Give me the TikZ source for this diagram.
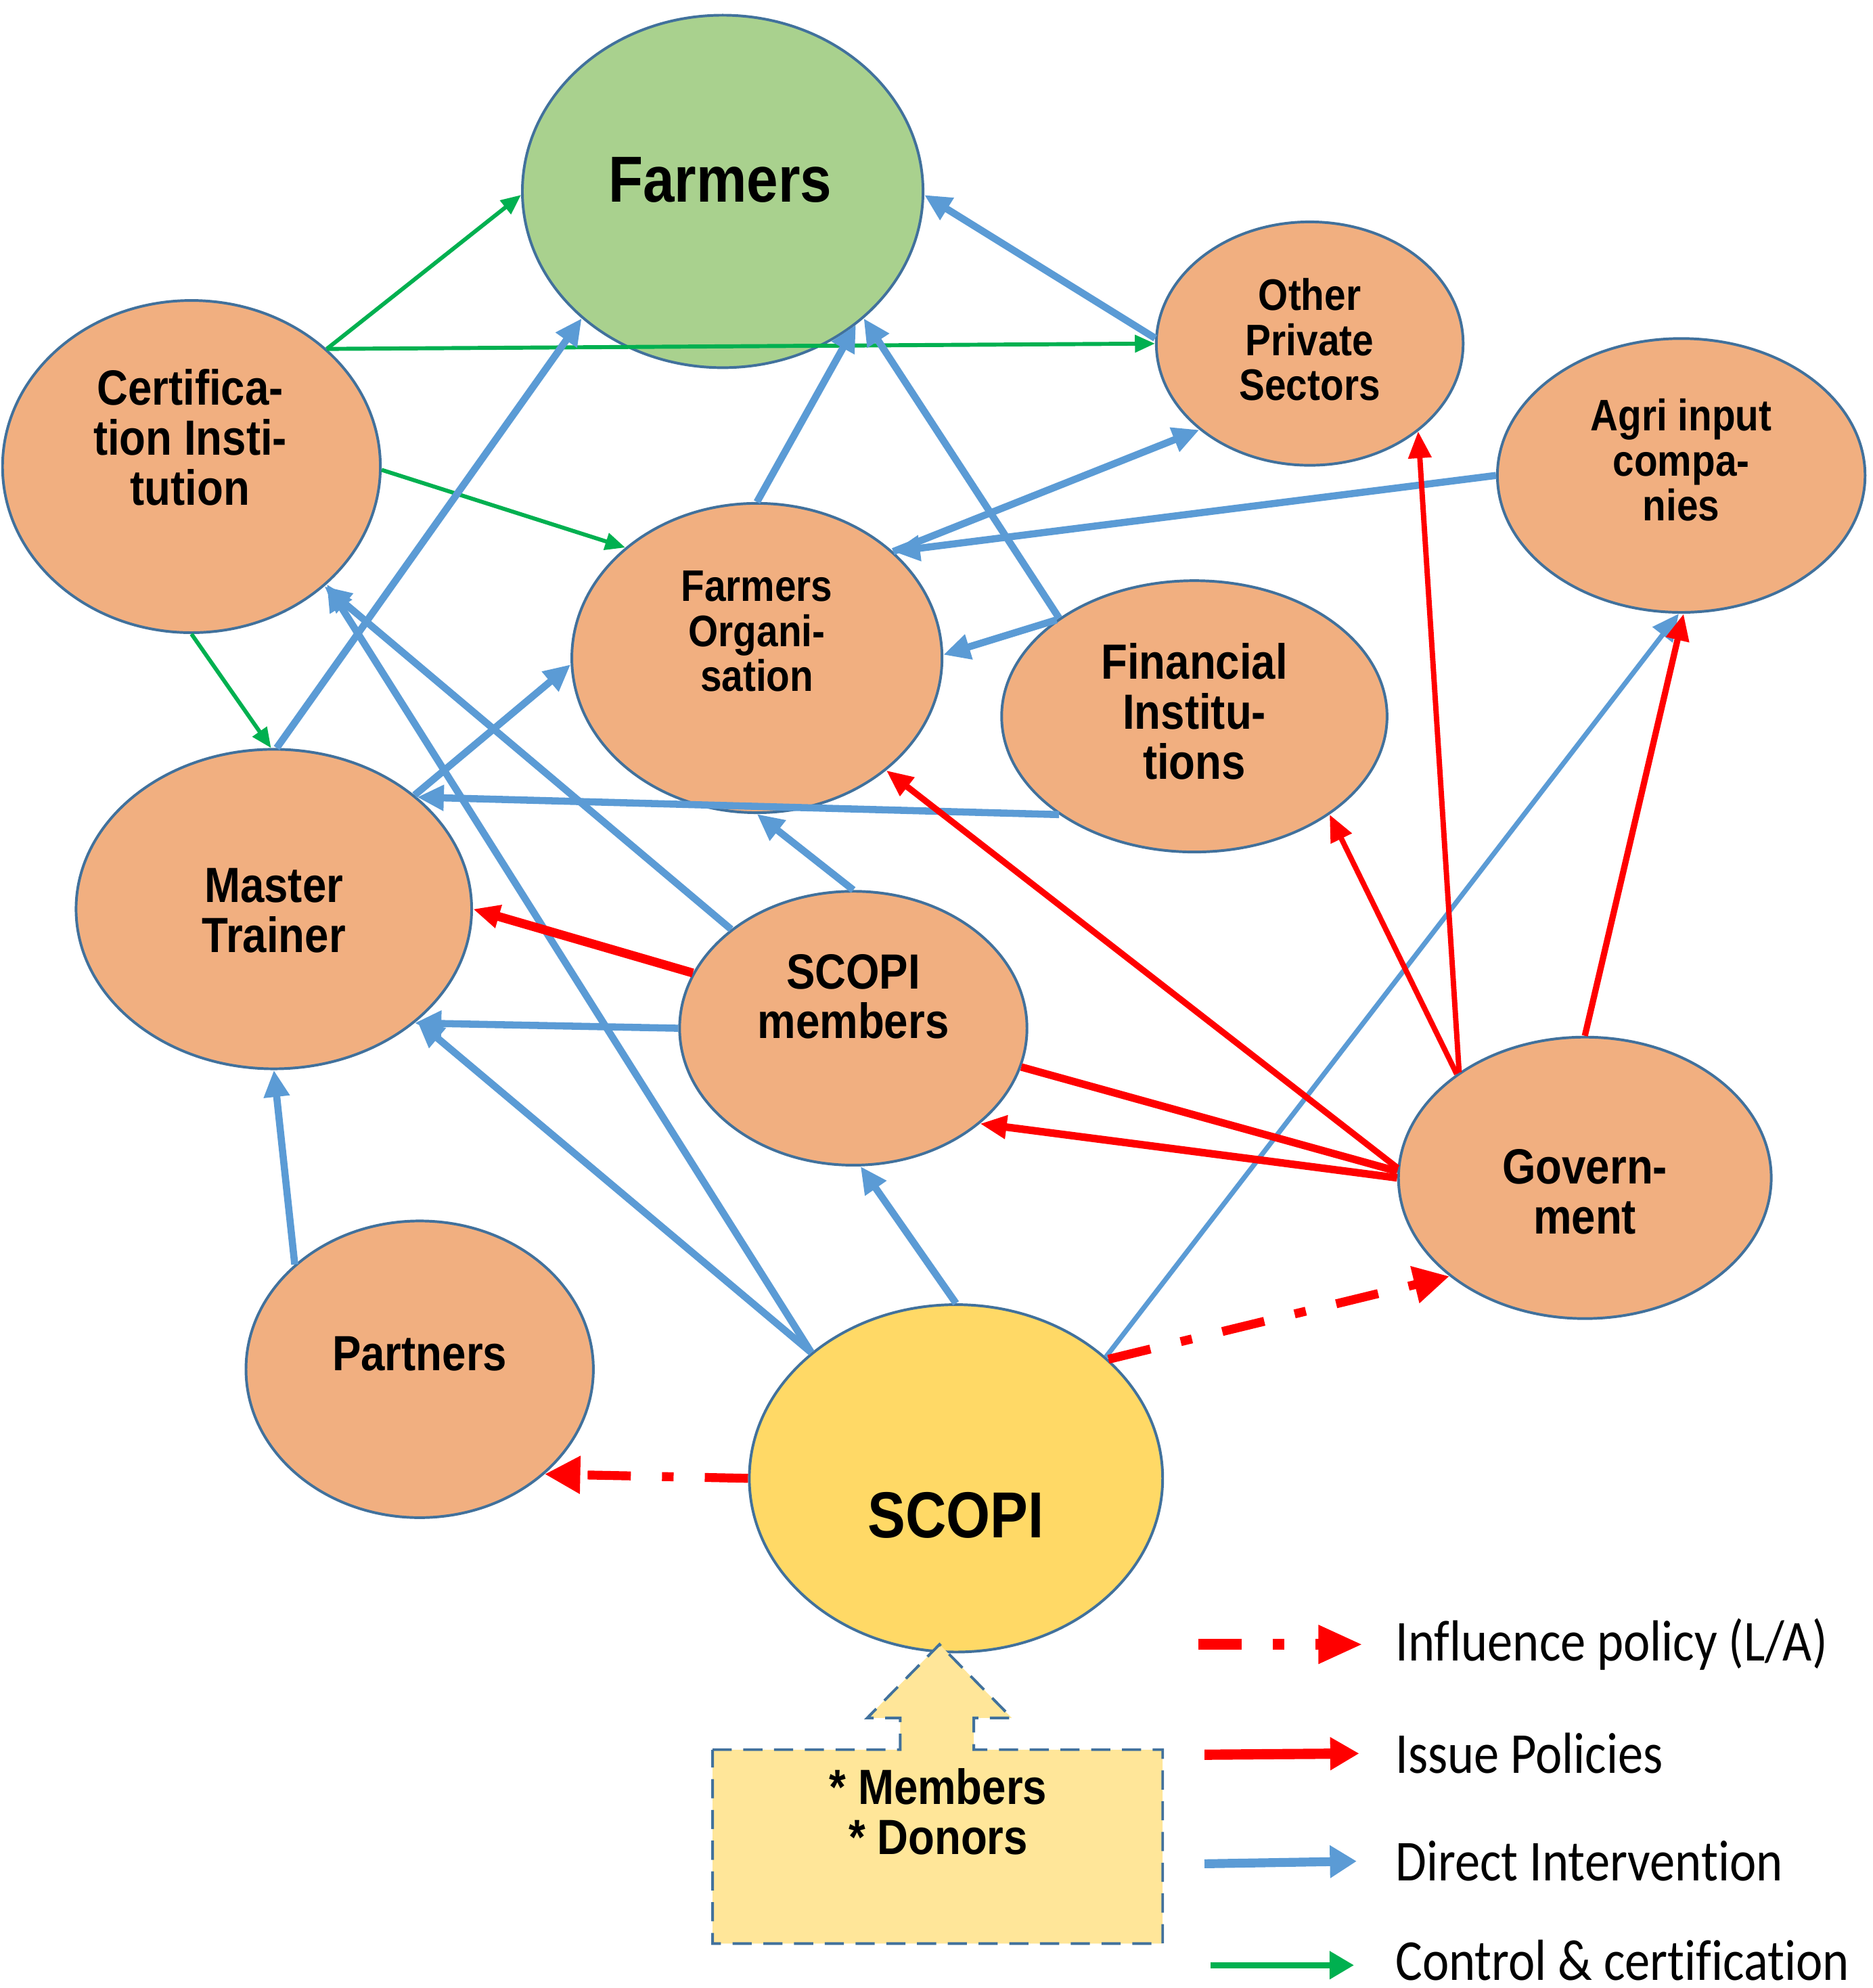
\documentclass[tikz,border=0pt]{standalone}
\usepackage{fontspec}
\setmainfont{Liberation Sans}
\newfontfamily\nodefont{Liberation Sans}[FakeStretch=0.87]
\newfontfamily\legendfont{Carlito}[FakeStretch=0.87, Ligatures=NoCommon]
\usepackage{tikz}
\usetikzlibrary{arrows.meta,shapes.geometric}

\definecolor{peach}{HTML}{F1AF80}
\definecolor{farmgreen}{HTML}{A9D18E}
\definecolor{scopiyellow}{HTML}{FFD966}
\definecolor{boxyellow}{HTML}{FFE699}
\definecolor{edgeblue}{HTML}{41719C}
\definecolor{dblue}{HTML}{5B9BD5}
\definecolor{ired}{HTML}{FF0000}
\definecolor{cgreen}{HTML}{00B050}

\begin{document}
\begin{tikzpicture}[
    actor/.style={ellipse, draw=edgeblue, line width=0.6pt, fill=peach, inner sep=0pt},
    txt/.style={font={\nodefont\bfseries\fontsize{11.1}{11.2}\selectfont}, align=center},
    smalltxt/.style={font={\nodefont\bfseries\fontsize{9.9}{10.1}\selectfont}, align=center},
    bigtxt/.style={font={\nodefont\bfseries\fontsize{14.6}{16}\selectfont}},
    legtxt/.style={font={\legendfont\fontsize{13}{15}\selectfont}, anchor=west, inner sep=0pt},
    direct/.style={draw=dblue, line width=1.6pt, -{Triangle[length=6pt,width=5.5pt]}},
    issue/.style={draw=ired, line width=1.4pt, -{Triangle[length=6pt,width=5pt]}},
    control/.style={draw=cgreen, line width=0.9pt, -{Triangle[length=4.5pt,width=3.8pt]}},
    influence/.style={draw=ired, line width=2pt, dash pattern=on 9.7pt off 7pt on 2.6pt off 7pt,
        -{Triangle[length=8pt,width=8pt]}},
    callout/.style={draw=edgeblue, fill=boxyellow, line width=0.6pt, dash pattern=on 4.3pt off 2.6pt}
]
\useasboundingbox (0,0) rectangle (14.77,-15.68);

% actors
\node[actor, fill=farmgreen, minimum width=3.16cm, minimum height=2.78cm] (farm) at (5.70,-1.51) {};
\node[actor, minimum width=2.98cm, minimum height=2.62cm] (cert) at (1.51,-3.68) {};
\node[actor, minimum width=2.42cm, minimum height=1.92cm] (ops) at (10.33,-2.71) {};
\node[actor, minimum width=2.90cm, minimum height=2.16cm] (agri) at (13.26,-3.75) {};
\node[actor, minimum width=2.92cm, minimum height=2.44cm] (fo) at (5.97,-5.19) {};
\node[actor, minimum width=3.04cm, minimum height=2.14cm] (fin) at (9.42,-5.65) {};
\node[actor, minimum width=3.12cm, minimum height=2.52cm] (mt) at (2.16,-7.17) {};
\node[actor, minimum width=2.74cm, minimum height=2.16cm] (sm) at (6.73,-8.11) {};
\node[actor, minimum width=2.94cm, minimum height=2.22cm] (gov) at (12.50,-9.29) {};
\node[actor, minimum width=2.74cm, minimum height=2.34cm] (part) at (3.31,-10.80) {};
\node[actor, fill=scopiyellow, minimum width=3.26cm, minimum height=2.74cm] (scopi) at (7.54,-11.66) {};

% members and donors
\filldraw[callout] (5.62,-13.80) -- (7.10,-13.80) -- (7.10,-13.55) -- (6.84,-13.55) -- (7.41,-12.97)
    -- (7.98,-13.55) -- (7.68,-13.55) -- (7.68,-13.80) -- (9.17,-13.80) -- (9.17,-15.33)
    -- (5.62,-15.33) -- cycle;

% control & certification
\draw[control] (cert.41) -- (farm.181);
\draw[control] (cert.41) -- (ops.180);
\draw[control] (cert.-1) -- (fo.140);
\draw[control] (cert.-90) -- (mt.91);

% direct intervention
\draw[direct] (mt.89) -- (farm.222);
\draw[direct] (fo.90) -- (farm.-45);
\draw[direct] (fin.144) -- (farm.-42);
\draw[direct] (ops.178) -- (farm.-1);
\draw[direct] (fo.38) -- (ops.218);
\draw[direct] (agri.180) -- (fo.38);
\draw[direct] (fin.145) -- (fo.1);
\draw[direct] (fin.216) -- (mt.38);
\draw[direct] (sm.141) -- (cert.-42);
\draw[direct] (scopi.139) -- (cert.-41);
\draw[direct] (mt.39) -- (fo.182);
\draw[direct] (sm.90) -- (fo.-90);
\draw[direct] (sm.180) -- (mt.-39);
\draw[direct] (scopi.139) -- (mt.-38);
\draw[direct] (part.140) -- (mt.-90);
\draw[direct] (scopi.90) -- (sm.-87);
\draw[direct, line width=1.1pt] (scopi.39) -- (agri.-91);

% issue policies
\draw[issue, line width=2pt] (sm.161) -- (mt.0);
\draw[issue] (gov.177) -- (fo.-41);
\draw[issue, line width=1.7pt] (gov.180) -- (sm.-37);
\draw[issue, line width=1.7pt, -] (sm.-13) -- (gov.178);
\draw[issue, line width=1.2pt] (gov.141) -- (fin.-36);
\draw[issue, line width=1.2pt] (gov.140) -- (ops.-39);
\draw[issue] (gov.90) -- (agri.-89);

% influence policy
\draw[influence] (scopi.38) -- (gov.216);
\draw[influence] (scopi.180) -- (part.-40);

% texts
\node[bigtxt] (farmt) at (5.68,-1.42) {Farmers};
\node[txt] (certt) at (1.50,-3.45) {Certifica-\\tion Insti-\\tution};
\node[smalltxt] (opst) at (10.33,-2.68) {Other\\Private\\Sectors};
\node[smalltxt] (agrit) at (13.26,-3.63) {Agri input\\compa-\\nies};
\node[smalltxt] (fot) at (5.97,-4.98) {Farmers\\Organi-\\sation};
\node[txt] (fint) at (9.42,-5.61) {Financial\\Institu-\\tions};
\node[txt] (mtt) at (2.16,-7.18) {Master\\Trainer};
\node[txt] (smt) at (6.73,-7.86) {SCOPI\\members};
\node[txt] (govt) at (12.50,-9.40) {Govern-\\ment};
\node[txt] (partt) at (3.31,-10.68) {Partners};
\node[bigtxt] (scopit) at (7.54,-11.95) {SCOPI};
\node[txt] (donors) at (7.40,-14.29) {* Members\\* Donors};

% legend
\node[legtxt] (leginf) at (11.00,-12.97) {Influence policy (L/A)};
\node[legtxt] (legiss) at (11.00,-13.83) {Issue Policies};
\node[legtxt] (legdir) at (11.00,-14.68) {Direct Intervention};
\node[legtxt] (legcon) at (11.00,-15.46) {Control \& certification};
\coordinate (leginfs) at (9.45,-12.97);
\coordinate (legisss) at (9.50,-13.84);
\coordinate (legdirs) at (9.50,-14.70);
\coordinate (legcons) at (9.55,-15.50);
\draw[influence, line width=2.5pt, -{Triangle[length=10pt,width=8pt]}] (leginfs) -- ([xshift=-0.25cm]leginf.west);
\draw[issue, line width=2.3pt, -{Triangle[length=6.5pt,width=7pt]}] (legisss) -- ([xshift=-0.28cm]legiss.west);
\draw[direct, line width=2pt, -{Triangle[length=6pt,width=7pt]}] (legdirs) -- ([xshift=-0.3cm]legdir.west);
\draw[control, line width=1.4pt, -{Triangle[length=5.5pt,width=6pt]}] (legcons) -- ([xshift=-0.32cm]legcon.west |- legcons);
\end{tikzpicture}
\end{document}
